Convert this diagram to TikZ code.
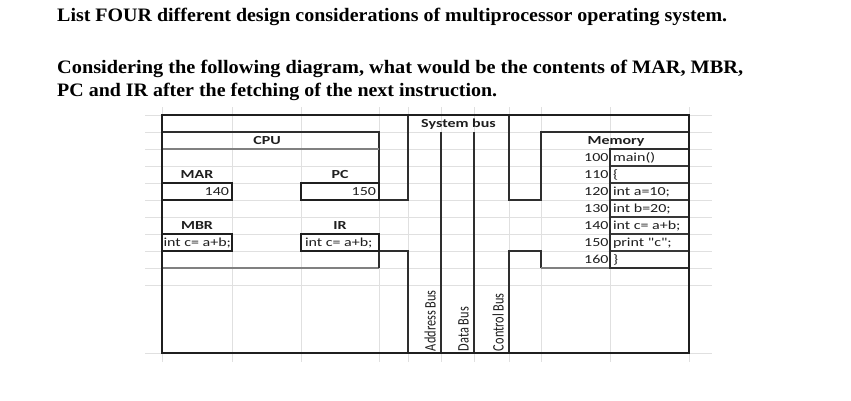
\documentclass[tikz,border=0pt]{standalone}
\usepackage{fontspec}
\usepackage{graphicx}
\setmainfont{Liberation Serif}
\newfontfamily\calfont{Carlito}
\newcommand\cellfont{\calfont\fontsize{12.3}{14}\selectfont}
\newcommand\ct[1]{\scalebox{1.3}[1]{\cellfont #1}}
\newcommand\cb[1]{\scalebox{1.3}[1]{\cellfont\bfseries #1}}
\newcommand\rt[1]{\scalebox{1}[1.3]{\cellfont #1}}
\newcommand\qline[2]{\resizebox{#1pt}{\height}{\fontsize{19}{21}\selectfont\bfseries #2}}
\tikzset{
  gridline/.style={draw=black!12, line width=0.8pt},
  outerline/.style={draw=black!88, line width=2.4pt},
  boxline/.style={draw=black!82, line width=1.7pt},
  regline/.style={draw=black!88, line width=2.1pt},
  rowline/.style={draw=black!78, line width=1.4pt},
  grayline/.style={draw=black!50, line width=1.6pt},
  cell/.style={inner sep=0pt, outer sep=0pt, text=black!88},
}
\begin{document}
\begin{tikzpicture}[x=1pt,y=-1pt]
\useasboundingbox (0,0) rectangle (851,400);
\fill[white] (0,0) rectangle (851,400);

% question text
\node[anchor=base west, inner sep=0pt] (q1) at (57,21) {\qline{670}{List FOUR different design considerations of multiprocessor operating system.}};
\node[anchor=base west, inner sep=0pt] (q2) at (57,73) {\qline{686}{Considering the following diagram, what would be the contents of MAR, MBR,}};
\node[anchor=base west, inner sep=0pt] (q3) at (57,96) {\qline{440}{PC and IR after the fetching of the next instruction.}};

% spreadsheet grid
\foreach \y in {115,132,...,285,353} \draw[gridline] (145,\y) -- (712,\y);
\foreach \x in {162,232,301,379,408,441,474,509,541,610,689} \draw[gridline] (\x,107) -- (\x,362);

% CPU
\draw[boxline] (162,132) -- (379,132) -- (379,200) -- (408,200) -- (408,115);
\draw[grayline] (162,149) -- (379,149);
\draw[grayline] (162,268) -- (379,268);
\draw[boxline] (379,268) -- (379,251) -- (408,251) -- (408,353);
\draw[regline] (162,183) rectangle (232,200);
\draw[regline] (301,183) rectangle (379,200);
\draw[regline] (162,234) rectangle (232,251);
\draw[regline] (301,234) rectangle (379,251);

% system bus
\draw[boxline] (441,132) -- (441,353);
\draw[boxline] (474,132) -- (474,353);

% memory
\draw[boxline] (509,115) -- (509,200) -- (541,200) -- (541,132) -- (689,132);
\draw[boxline] (509,353) -- (509,251) -- (541,251) -- (541,268);
\draw[grayline] (541,268) -- (689,268);
\foreach \y in {166,183,...,251} \draw[rowline] (610,\y) -- (689,\y);
\draw[boxline] (610,149) rectangle (689,268);

% outer border
\draw[outerline] (162,115) rectangle (689,353);

% labels
\node[cell, anchor=base] (sysbus) at (458.5,127.5) {\cb{System bus}};
\node[cell, anchor=base] (cpu) at (267,144.5) {\cb{CPU}};
\node[cell, anchor=base] (marl) at (197,178.5) {\cb{MAR}};
\node[cell, anchor=base east] (marv) at (229,195.5) {\ct{140}};
\node[cell, anchor=base] (pcl) at (340,178.5) {\cb{PC}};
\node[cell, anchor=base east] (pcv) at (376,195.5) {\ct{150}};
\node[cell, anchor=base] (mbrl) at (197,229.5) {\cb{MBR}};
\node[cell, anchor=base west] (mbrv) at (163.5,246.5) {\ct{int c= a+b;}};
\node[cell, anchor=base] (irl) at (340,229.5) {\cb{IR}};
\node[cell, anchor=base west] (irv) at (305,246.5) {\ct{int c= a+b;}};
\node[cell, anchor=base] (meml) at (616,144.5) {\cb{Memory}};

\node[cell, anchor=base east] (a1) at (608.5,161.5) {\ct{100}};
\node[cell, anchor=base east] (a2) at (608.5,178.5) {\ct{110}};
\node[cell, anchor=base east] (a3) at (608.5,195.5) {\ct{120}};
\node[cell, anchor=base east] (a4) at (608.5,212.5) {\ct{130}};
\node[cell, anchor=base east] (a5) at (608.5,229.5) {\ct{140}};
\node[cell, anchor=base east] (a6) at (608.5,246.5) {\ct{150}};
\node[cell, anchor=base east] (a7) at (608.5,263.5) {\ct{160}};

\node[cell, anchor=base west] (v1) at (613,161.5) {\ct{main()}};
\node[cell, anchor=base west] (v2) at (613,178.5) {\ct{\{}};
\node[cell, anchor=base west] (v3) at (613,195.5) {\ct{int a=10;}};
\node[cell, anchor=base west] (v4) at (613,212.5) {\ct{int b=20;}};
\node[cell, anchor=base west] (v5) at (613,229.5) {\ct{int c= a+b;}};
\node[cell, anchor=base west] (v6) at (613,246.5) {\ct{print "c";}};
\node[cell, anchor=base west] (v7) at (613,263.5) {\ct{\}}};

\node[cell, anchor=base west, rotate=90] (abus) at (435.5,351) {\rt{Address Bus}};
\node[cell, anchor=base west, rotate=90] (dbus) at (468.5,351) {\rt{Data Bus}};
\node[cell, anchor=base west, rotate=90] (cbus) at (503.5,351) {\rt{Control Bus}};
\end{tikzpicture}
\end{document}
